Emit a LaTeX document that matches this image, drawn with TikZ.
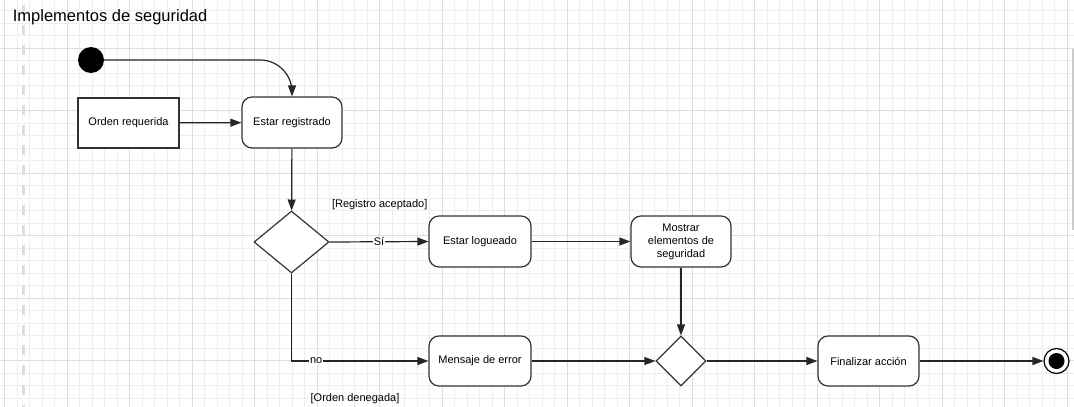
\documentclass[tikz,border=0pt]{standalone}
\usepackage{fontspec}
\setmainfont{Liberation Sans}
\usetikzlibrary{arrows.meta,shapes.geometric}
\definecolor{linec}{HTML}{333333}
\definecolor{gridminor}{HTML}{EEEEEE}
\definecolor{gridmajor}{HTML}{DDDDDD}
\definecolor{dashc}{HTML}{DDDDDD}
\definecolor{scrollc}{HTML}{CCCCCC}
\begin{document}
\begin{tikzpicture}[x=1pt,y=-1pt,
  txt/.style={font=\fontsize{11}{13}\selectfont},
  act/.style={draw=linec, line width=1.2pt, fill=white, rounded corners=10pt, inner sep=0pt, align=center, txt},
  plainbox/.style={draw=linec, line width=1.1pt, fill=white, inner sep=0pt, align=center, txt},
  dec/.style={diamond, draw=linec, line width=1.2pt, fill=white, inner sep=0pt},
  arr/.style={draw=black!85, line width=1.2pt, -{Triangle[length=11pt,width=8pt]}},
  lbl/.style={inner sep=1pt, txt}
]
\useasboundingbox (0,0) rectangle (1074,407);
\fill[white] (0,0) rectangle (1074,407);
% grid
\foreach \i in {0,...,86} {
  \draw[gridminor, line width=0.7pt] ({4.5+12.5*\i},0) -- ({4.5+12.5*\i},407);
}
\foreach \j in {0,...,33} {
  \draw[gridminor, line width=0.7pt] (0,{-2+12.5*\j}) -- (1074,{-2+12.5*\j});
}
\foreach \i in {0,...,17} {
  \draw[gridmajor, line width=0.8pt] ({4.5+62.5*\i},0) -- ({4.5+62.5*\i},407);
}
\foreach \j in {1,...,6} {
  \draw[gridmajor, line width=0.8pt] (0,{-14.5+62.5*\j}) -- (1074,{-14.5+62.5*\j});
}
% lane separator and scrollbar
\draw[dashc, line width=3pt, dash pattern=on 10pt off 10pt, dash phase=-5pt] (23.3,0) -- (23.3,407);
\draw[scrollc, line width=2pt] (1072.7,49) -- (1072.7,230);
% title
\node[anchor=base west, inner sep=0pt, font=\fontsize{16.5}{18}\selectfont] (title) at (12.7,21) {Implementos de seguridad};
% nodes
\node[circle, fill=black, minimum size=26pt, inner sep=0pt] (start) at (91,60) {};
\node[plainbox, minimum width=101pt, minimum height=50pt] (orden) at (128.5,123) {Orden requerida};
\node[act, minimum width=100pt, minimum height=51pt] (reg) at (292,122.5) {Estar registrado};
\node[dec, minimum width=75pt, minimum height=62pt] (d1) at (291.5,242) {};
\node[act, minimum width=102pt, minimum height=51pt] (log) at (480,241.5) {Estar logueado};
\node[act, minimum width=100pt, minimum height=51pt] (most) at (681,241.5) {Mostrar\\elementos de\\seguridad};
\node[act, minimum width=102pt, minimum height=50pt] (msg) at (480,361) {Mensaje de error};
\node[dec, minimum width=50pt, minimum height=50pt] (d2) at (681,361) {};
\node[act, minimum width=101pt, minimum height=50pt] (fin) at (868.5,361) {Finalizar acción};
\node[circle, draw=black, line width=1.2pt, fill=white, minimum size=25pt, inner sep=0pt] (end) at (1056.5,361) {};
\node[circle, fill=black, minimum size=16pt, inner sep=0pt] (endin) at (end.center) {};
% guard labels
\node[lbl] (ra) at (379.7,205) {[Registro aceptado]};
\node[lbl] (od) at (355,399) {[Orden denegada]};
% connectors
\draw[arr, rounded corners=32pt] (start.east) -| (reg.north);
\draw[arr] (orden) -- (reg);
\draw[arr] (reg) -- (d1);
\draw[arr] (d1.east) -- node[lbl, fill=white, pos=0.5] {Sí} (log.west);
\draw[arr] (log) -- (most);
\draw[arr] (most) -- (d2);
\draw[arr] (d1.south) |- node[lbl, fill=white, pos=0.59] {no} (msg.west);
\draw[arr] (msg) -- (d2);
\draw[arr] (d2) -- (fin);
\draw[arr] (fin) -- (end);
\end{tikzpicture}
\end{document}
